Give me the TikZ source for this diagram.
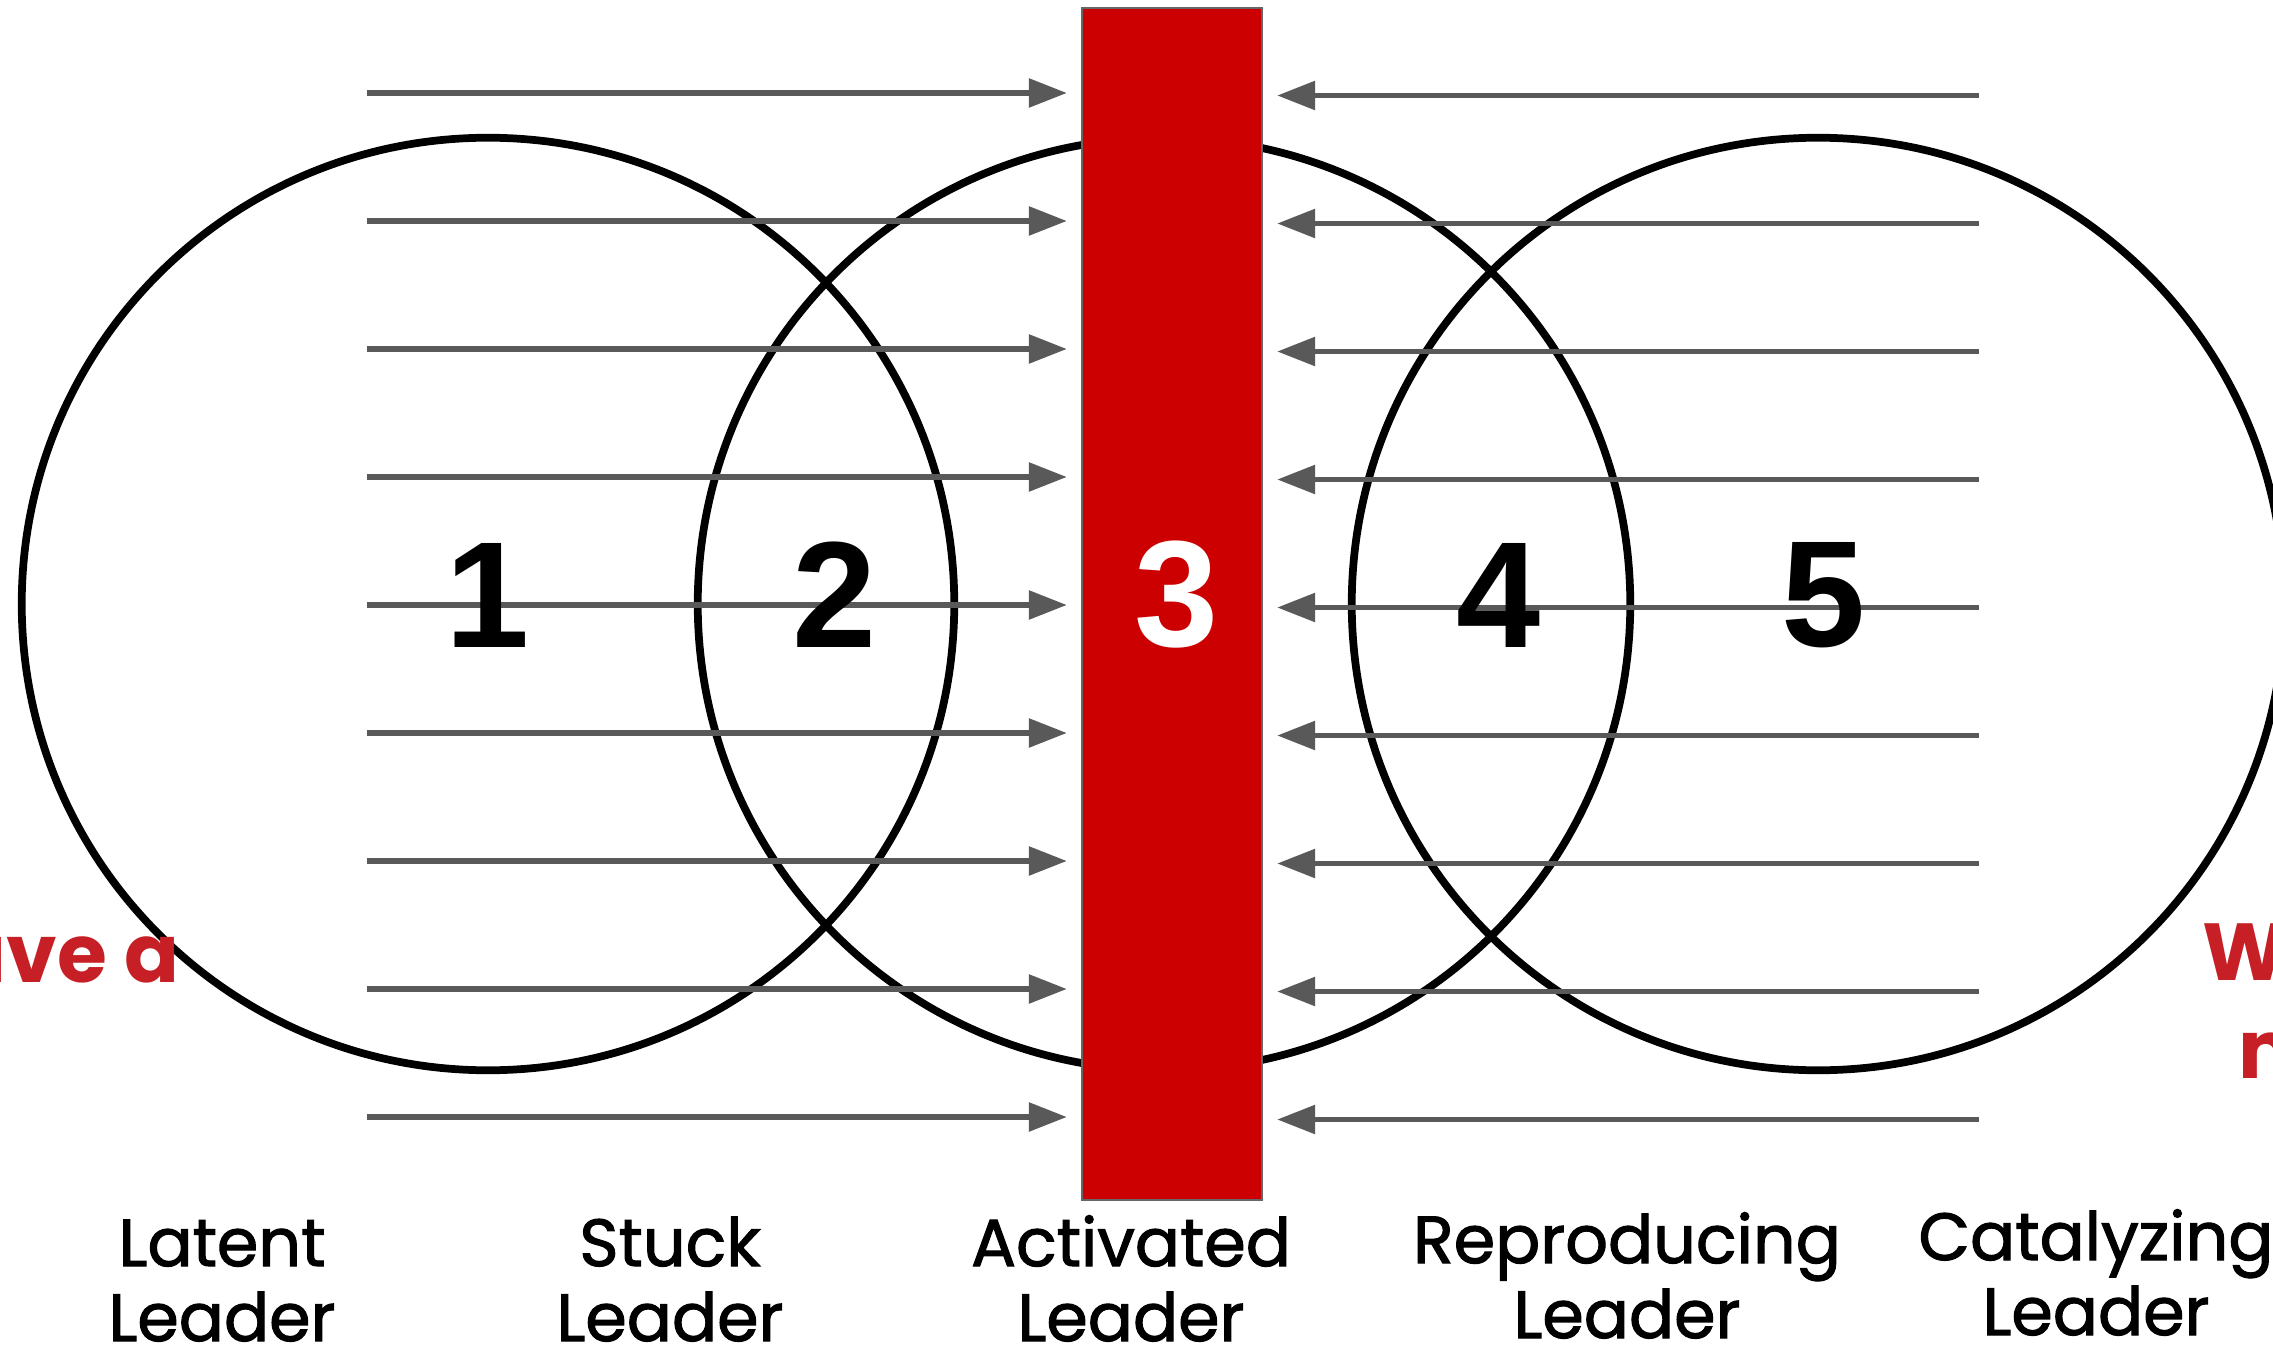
\documentclass[tikz,border=0pt]{standalone}
\usepackage{fontspec}
\setmainfont{Liberation Sans}
\newfontfamily\leadfont{Poppins}
\newfontfamily\stagefont{Poppins}[FakeBold=1.6]
\usetikzlibrary{arrows.meta,positioning}
\definecolor{barRed}{RGB}{204,0,0}
\definecolor{barEdge}{RGB}{102,102,102}
\definecolor{flowGray}{RGB}{89,89,89}
\definecolor{noteRed}{RGB}{198,32,38}

\begin{document}
\begin{tikzpicture}[
    x=0.01cm, y=-0.01cm,
    ring/.style={draw, circle, line width=2.2pt, minimum size=9.32cm, inner sep=0pt},
    bar/.style={draw=barEdge, line width=0.6pt, fill=barRed, minimum width=1.8cm, minimum height=11.92cm, inner sep=0pt},
    num/.style={font=\fontsize{43}{43}\selectfont\bfseries, inner sep=0pt},
    stage/.style={font=\stagefont\fontsize{19}{21.3}\selectfont, align=center, anchor=base, inner sep=0pt},
    note/.style={font=\leadfont\bfseries\fontsize{23}{28}\selectfont, text=noteRed, inner sep=0pt},
    flow/.style={flowGray, line width=1.6pt, -{Triangle[length=0.38cm, width=0.28cm]}},
]
    \clip (0,0) rectangle (2273,1355);

    \node[ring] (latentRing) at (488,604) {};
    \node[ring] (activeRing) at (1164,604) {};
    \node[ring] (catalRing) at (1818,604) {};

    \node[bar] (bar) at (1172,604) {};

    \foreach \i in {0,...,8} {
        \coordinate (inL\i) at (367,93+128*\i);
        \coordinate (inR\i) at (1979,95.5+128*\i);
        \draw[flow] (inL\i) -- ([xshift=-0.14cm]bar.west |- inL\i);
        \draw[flow] (inR\i) -- ([xshift=0.14cm]bar.east |- inR\i);
    }

    \node[num] (num1) at (488,595) {1};
    \node[num] (num2) at (835,595) {2};
    \node[num, text=white] (num3) at (1177,595) {3};
    \node[num] (num4) at (1499,595) {4};
    \node[num] (num5) at (1824,595) {5};

    \node[stage] (latent) at (222,1341) {Latent\\Leader};
    \node[stage] (stuck) at (670,1341) {Stuck\\Leader};
    \node[stage] (activated) at (1131,1341) {Activated\\Leader};
    \node[stage] (reproducing) at (1627,1338) {Reproducing\\Leader};
    \node[stage] (catalyzing) at (2096,1335) {Catalyzing\\Leader};

    \node[note, anchor=base east] (noteLeft) at (180,982) {ave a};
    \node[note, anchor=base west] (noteW) at (2202,980) {W};
    \node[note, anchor=base west] (noteN) at (2238,1078) {n};
\end{tikzpicture}
\end{document}
